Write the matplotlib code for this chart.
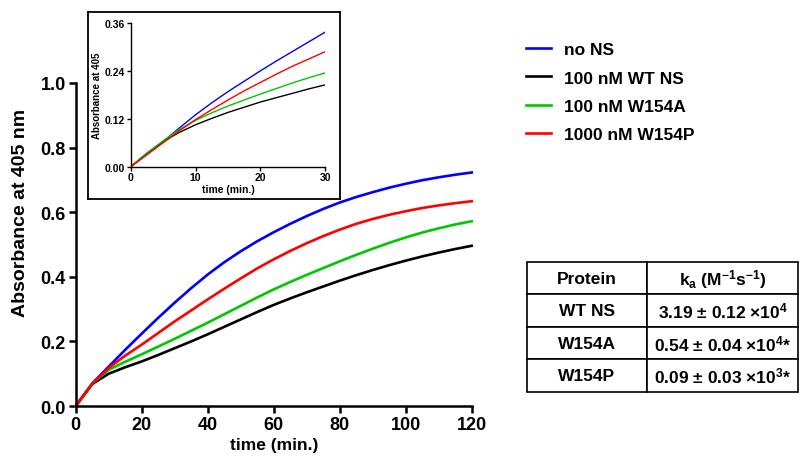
import matplotlib
matplotlib.use('Agg')
import matplotlib.pyplot as plt
import numpy as np

plt.rcParams['font.family'] = ['Liberation Sans', 'DejaVu Sans']
plt.rcParams['font.weight'] = 'bold'
plt.rcParams['mathtext.fontset'] = 'custom'
plt.rcParams['mathtext.rm'] = 'Liberation Sans:bold'
plt.rcParams['mathtext.bf'] = 'Liberation Sans:bold'
plt.rcParams['mathtext.default'] = 'bf'

# main plot data (0-120 min, every 5 min)
t_main = [0, 5, 10, 15, 20, 25, 30, 35, 40, 45, 50, 55, 60,
          65, 70, 75, 80, 85, 90, 95, 100, 105, 110, 115, 120]
no_ns = [0, 0.07, 0.122, 0.174, 0.224, 0.273, 0.32, 0.365, 0.407, 0.445, 0.479, 0.51, 0.538,
         0.564, 0.588, 0.61, 0.63, 0.647, 0.662, 0.676, 0.688, 0.699, 0.708, 0.716, 0.723]
wt_ns = [0, 0.068, 0.1, 0.12, 0.138, 0.158, 0.179, 0.2, 0.222, 0.245, 0.268, 0.291, 0.313,
         0.333, 0.352, 0.37, 0.388, 0.405, 0.421, 0.436, 0.45, 0.463, 0.475, 0.486, 0.496]
w154a = [0, 0.07, 0.112, 0.137, 0.16, 0.184, 0.208, 0.233, 0.258, 0.284, 0.31, 0.336, 0.361,
         0.384, 0.406, 0.427, 0.448, 0.468, 0.487, 0.505, 0.522, 0.537, 0.55, 0.562, 0.572]
w154p = [0, 0.068, 0.118, 0.156, 0.19, 0.226, 0.262, 0.296, 0.33, 0.363, 0.395, 0.426, 0.454,
         0.48, 0.504, 0.526, 0.546, 0.564, 0.579, 0.592, 0.603, 0.613, 0.621, 0.628, 0.634]

# inset data (0-30 min)
t_in = [0, 2.5, 5, 7.5, 10, 12.5, 15, 17.5, 20, 22.5, 25, 27.5, 30]
no_ns_in = [0, 0.031, 0.063, 0.097, 0.13, 0.16, 0.188, 0.214, 0.24, 0.265, 0.289, 0.313, 0.337]
wt_ns_in = [0, 0.034, 0.063, 0.086, 0.105, 0.121, 0.136, 0.149, 0.162, 0.173, 0.184, 0.195, 0.205]
w154a_in = [0, 0.034, 0.065, 0.093, 0.116, 0.135, 0.152, 0.167, 0.182, 0.196, 0.21, 0.223, 0.235]
w154p_in = [0, 0.03, 0.06, 0.09, 0.118, 0.143, 0.167, 0.19, 0.211, 0.232, 0.252, 0.27, 0.288]

labels = ['no NS', '100 nM WT NS', '100 nM W154A', '1000 nM W154P']
colors = ['#0000ff', '#000000', '#00c800', '#ff0000']

# table
tbl_header = ['Protein', r'k$_{a}$ (M$^{-1}$s$^{-1}$)']
tbl_protein = ['WT NS', 'W154A', 'W154P']
tbl_ka = [r'3.19 ± 0.12 ×10$^{4}$', r'0.54 ± 0.04 ×10$^{4}$*', r'0.09 ± 0.03 ×10$^{3}$*']

fig = plt.figure(figsize=(8.08, 4.6), dpi=100)

# main axes
ax = fig.add_axes([0.0937, 0.1152, 0.4901, 0.7022])
handles = []
for ys, c, lab in zip([no_ns, wt_ns, w154a, w154p], colors, labels):
    h, = ax.plot(t_main, ys, color=c, lw=1.9, label=lab, clip_on=False)
    handles.append(h)
ax.set_xlim(0, 120)
ax.set_ylim(0, 1.0)
ax.set_xticks(np.arange(0, 121, 20))
ax.set_yticks(np.arange(0, 1.01, 0.2))
ax.set_yticklabels(['%.1f' % v for v in np.arange(0, 1.01, 0.2)])
for s in ['top', 'right']:
    ax.spines[s].set_visible(False)
for s in ['left', 'bottom']:
    ax.spines[s].set_linewidth(1.8)
ax.tick_params(direction='out', length=5, width=1.8, labelsize=13, pad=2)
ax.set_xlabel('time (min.)', fontsize=12.5, fontweight='bold', labelpad=3)
ax.set_ylabel('Absorbance at 405 nm', fontsize=14, fontweight='bold')
ax.yaxis.set_label_coords(-0.118, 0.6)

# inset frame
frame = fig.add_axes([0.1083, 0.5652, 0.3131, 0.4076])
frame.set_xticks([])
frame.set_yticks([])
for s in frame.spines.values():
    s.set_linewidth(1.3)

# inset axes
axi = fig.add_axes([0.1618, 0.6354, 0.2405, 0.3124])
axi.patch.set_alpha(0)
for ys, c in zip([no_ns_in, wt_ns_in, w154a_in, w154p_in], colors):
    axi.plot(t_in, ys, color=c, lw=1.0)
axi.set_xlim(0, 30)
axi.set_ylim(0, 0.36)
axi.set_xticks([0, 10, 20, 30])
axi.set_yticks([0, 0.12, 0.24, 0.36])
axi.set_yticklabels(['0.00', '0.12', '0.24', '0.36'])
for s in ['top', 'right']:
    axi.spines[s].set_visible(False)
for s in ['left', 'bottom']:
    axi.spines[s].set_linewidth(1.0)
axi.tick_params(direction='out', length=3, width=1.0, labelsize=7.5, pad=1)
axi.set_xlabel('time (min.)', fontsize=7.5, fontweight='bold', labelpad=1)
axi.set_ylabel('Absorbance at 405', fontsize=7, fontweight='bold', labelpad=2)

# legend
fig.legend(handles, labels, loc='upper left', bbox_to_anchor=(526 / 808, 1 - 43 / 460),
           frameon=False, handlelength=1.45, handletextpad=0.75,
           labelspacing=0.76, borderpad=0, borderaxespad=0,
           prop={'weight': 'bold', 'size': 12.5})

# table
axt = fig.add_axes([0.6522, 0.1457, 0.3354, 0.2826])
axt.axis('off')
cells = [[p, k] for p, k in zip(tbl_protein, tbl_ka)]
tb = axt.table(cellText=cells, colLabels=tbl_header, colWidths=[0.443, 0.557],
               cellLoc='center', bbox=[0, 0, 1, 1])
tb.auto_set_font_size(False)
for (r, c), cell in tb.get_celld().items():
    cell.set_linewidth(1.2)
    cell.get_text().set_fontsize(12.5)
    cell.get_text().set_fontweight('bold')

fig.savefig('out.png', dpi=100)
